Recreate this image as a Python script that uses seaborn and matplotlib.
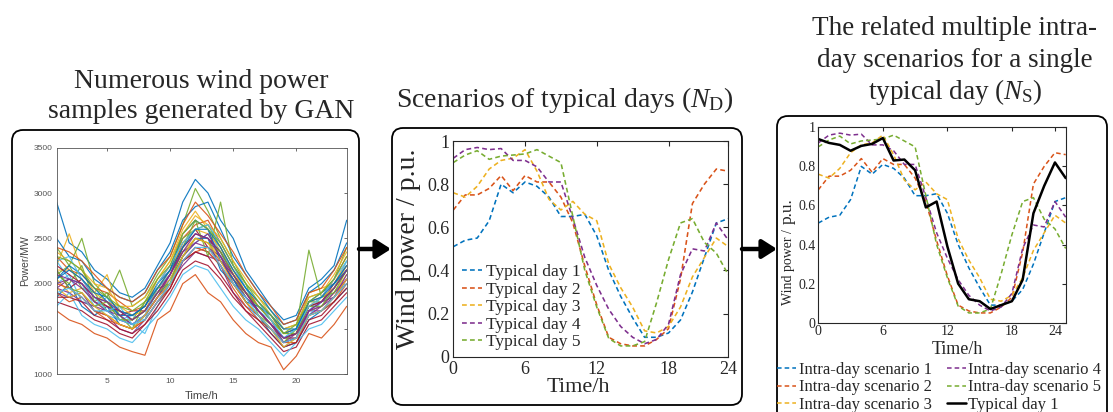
import matplotlib
matplotlib.use("Agg")
import matplotlib.pyplot as plt
import numpy as np
import pandas as pd
import seaborn as sns
from matplotlib.patches import FancyBboxPatch, FancyArrowPatch, ArrowStyle
from matplotlib.transforms import Affine2D

# ---------------------------------------------------------------- data
gan_hours = list(range(1, 25))
gan_samples = [
    [2900, 2450, 2350, 2150, 2050, 1900, 1850, 1950, 2200, 2450, 2900, 3150, 3000, 2700, 2500, 2150, 1950, 1750, 1600, 1650, 1950, 2050, 2200, 2700],
    [1700, 1600, 1550, 1450, 1400, 1300, 1250, 1210, 1600, 1700, 2000, 2100, 1900, 1800, 1600, 1450, 1350, 1300, 1050, 1200, 1450, 1400, 1550, 1750],
    [2200, 2550, 2150, 1900, 2100, 1700, 1650, 1750, 2050, 2250, 2600, 2800, 2600, 2350, 2150, 1900, 1800, 1600, 1450, 1500, 1900, 1950, 2000, 2250],
    [1900, 1850, 1900, 1700, 1650, 1500, 1450, 1600, 1800, 1950, 2250, 2400, 2350, 2200, 1900, 1750, 1650, 1500, 1350, 1400, 1700, 1700, 1850, 2050],
    [2400, 2200, 2500, 2000, 1850, 2150, 1750, 1850, 2100, 2300, 2650, 3050, 2800, 2500, 2250, 2000, 1850, 1700, 1500, 1550, 1850, 1900, 2050, 2400],
    [2000, 2100, 1800, 1750, 1650, 1600, 1550, 1450, 1750, 2000, 2300, 2450, 2550, 2350, 2000, 1800, 1600, 1500, 1300, 1400, 1650, 1800, 1900, 2000],
    [2150, 1950, 2050, 1850, 1800, 1650, 1700, 1700, 1950, 2100, 2450, 2600, 2400, 2300, 2050, 1900, 1700, 1550, 1400, 1450, 1750, 1800, 2000, 2200],
    [1850, 2000, 1750, 1650, 1750, 1550, 1500, 1650, 1850, 2050, 2300, 2500, 2500, 2150, 2000, 1800, 1650, 1450, 1300, 1350, 1600, 1700, 1800, 1950],
    [2300, 2150, 2100, 1950, 1900, 1800, 1700, 1750, 2000, 2200, 2500, 2650, 2700, 2450, 2200, 1950, 1750, 1650, 1450, 1500, 1800, 1850, 2050, 2300],
    [2050, 1900, 1950, 1800, 1700, 1600, 1600, 1700, 1900, 2050, 2350, 2500, 2450, 2300, 2050, 1850, 1700, 1550, 1400, 1400, 1700, 1750, 1900, 2100],
    [1950, 2050, 2000, 1800, 1750, 1650, 1550, 1650, 1850, 2000, 2200, 2350, 2300, 2250, 2100, 1900, 1750, 1600, 1350, 1450, 1650, 1750, 1850, 2050],
    [2100, 2200, 1950, 1900, 1700, 1700, 1600, 1800, 1950, 2150, 2500, 2600, 2650, 2400, 2100, 1850, 1700, 1550, 1400, 1450, 1800, 1800, 1950, 2150],
    [2250, 2050, 2000, 1750, 1850, 1600, 1650, 1600, 1950, 2100, 2400, 2550, 2500, 2350, 2150, 1950, 1700, 1600, 1400, 1500, 1700, 1850, 1950, 2250],
    [1800, 1750, 1700, 1600, 1550, 1450, 1400, 1550, 1700, 1900, 2150, 2250, 2200, 2050, 1850, 1700, 1550, 1400, 1250, 1300, 1550, 1600, 1750, 1900],
    [2500, 2300, 2250, 2050, 1950, 1850, 1800, 1900, 2150, 2350, 2700, 2850, 2900, 2600, 2300, 2100, 1900, 1700, 1550, 1600, 1900, 2000, 2150, 2450],
    [2000, 1950, 1850, 1700, 1650, 1550, 1500, 1600, 1800, 1950, 2250, 2400, 2350, 2200, 2000, 1800, 1650, 1500, 1350, 1400, 1650, 1700, 1850, 2000],
    [2150, 2150, 2050, 1900, 1800, 1750, 1650, 1700, 1950, 2150, 2450, 2600, 2550, 2400, 2150, 1900, 1750, 1600, 1450, 1450, 1750, 1850, 1950, 2200],
    [1950, 1900, 1800, 1750, 1700, 1600, 1550, 1650, 1850, 2000, 2300, 2450, 2400, 2250, 2050, 1850, 1700, 1550, 1400, 1400, 1700, 1750, 1900, 2050],
    [2100, 2000, 2200, 1800, 1900, 1650, 1500, 1800, 1950, 2000, 2400, 2700, 2300, 2900, 2200, 2000, 1650, 1550, 1350, 1500, 2370, 1850, 1900, 2150],
    [1750, 1900, 1650, 1550, 1500, 1400, 1350, 1500, 1650, 1850, 2100, 2200, 2150, 1950, 1750, 1600, 1500, 1350, 1200, 1350, 1500, 1550, 1700, 1850],
    [2200, 2100, 2000, 1850, 1750, 1700, 1600, 1700, 1900, 2100, 2400, 2550, 2500, 2350, 2100, 1900, 1700, 1550, 1400, 1450, 1750, 1800, 1950, 2150],
    [2050, 2200, 2100, 1950, 1800, 1650, 1650, 1750, 2000, 2150, 2550, 2700, 2600, 2250, 2050, 1800, 1750, 1650, 1450, 1500, 1800, 1900, 2000, 2200],
    [1900, 1800, 1850, 1700, 1600, 1550, 1500, 1600, 1800, 2000, 2250, 2350, 2400, 2200, 1950, 1750, 1600, 1500, 1350, 1350, 1650, 1700, 1800, 2000],
    [2350, 2250, 2150, 2000, 1950, 1750, 1750, 1850, 2050, 2250, 2550, 2750, 2650, 2500, 2250, 2050, 1850, 1650, 1500, 1550, 1850, 1900, 2100, 2350],
    [2000, 2050, 1950, 1800, 1700, 1650, 1550, 1650, 1850, 2100, 2350, 2450, 2550, 2300, 2000, 1850, 1700, 1550, 1350, 1400, 1700, 1800, 1850, 2100],
    [2150, 1950, 1900, 1750, 1800, 1600, 1600, 1700, 1900, 2000, 2300, 2500, 2450, 2350, 2100, 1900, 1750, 1600, 1450, 1450, 1750, 1750, 1950, 2150],
    [2250, 2300, 2050, 1850, 1700, 1750, 1550, 1650, 2000, 2200, 2450, 2600, 2650, 2450, 2200, 1950, 1800, 1600, 1400, 1500, 1750, 1850, 2050, 2250],
    [1850, 1850, 1800, 1650, 1600, 1500, 1450, 1550, 1750, 1950, 2250, 2350, 2300, 2100, 1900, 1700, 1600, 1450, 1300, 1350, 1600, 1650, 1800, 1950],
    [2050, 2150, 2050, 1900, 1850, 1700, 1650, 1750, 1950, 2150, 2400, 2600, 2600, 2400, 2150, 1950, 1800, 1650, 1500, 1500, 1800, 1850, 2000, 2150],
    [2400, 2350, 2250, 2100, 1950, 1850, 1800, 1900, 2150, 2300, 2650, 2900, 2750, 2550, 2350, 2100, 1900, 1750, 1550, 1600, 1900, 1950, 2150, 2400],
    [1950, 1850, 1900, 1750, 1650, 1550, 1500, 1650, 1850, 2000, 2300, 2500, 2450, 2250, 2000, 1800, 1650, 1500, 1300, 1400, 1650, 1700, 1850, 2050],
    [2100, 2050, 2000, 1850, 1800, 1700, 1600, 1700, 1900, 2100, 2350, 2550, 2500, 2300, 2100, 1900, 1700, 1550, 1400, 1450, 1700, 1800, 1950, 2150],
    [2300, 2250, 2150, 1950, 1850, 1750, 1700, 1800, 2050, 2200, 2550, 2700, 2600, 2450, 2200, 2000, 1800, 1650, 1450, 1550, 1800, 1900, 2050, 2300],
    [1900, 1950, 1850, 1700, 1700, 1600, 1550, 1600, 1800, 2000, 2250, 2400, 2400, 2200, 2000, 1850, 1650, 1500, 1350, 1400, 1650, 1700, 1850, 2000],
]

day_hours = list(range(24))
day1 = [0.51, 0.54, 0.55, 0.63, 0.80, 0.76, 0.81, 0.79, 0.74, 0.65, 0.65, 0.66, 0.56, 0.40, 0.28, 0.18, 0.09, 0.09, 0.11, 0.17, 0.30, 0.46, 0.62, 0.64]
day2 = [0.68, 0.75, 0.75, 0.78, 0.84, 0.77, 0.84, 0.81, 0.81, 0.74, 0.62, 0.42, 0.24, 0.09, 0.06, 0.05, 0.05, 0.08, 0.13, 0.36, 0.71, 0.80, 0.87, 0.86]
day3 = [0.76, 0.74, 0.79, 0.87, 0.91, 0.92, 0.96, 0.86, 0.73, 0.68, 0.72, 0.66, 0.63, 0.43, 0.32, 0.23, 0.12, 0.11, 0.14, 0.23, 0.37, 0.46, 0.55, 0.51]
day4 = [0.92, 0.96, 0.97, 0.96, 0.965, 0.91, 0.91, 0.88, 0.81, 0.81, 0.64, 0.46, 0.33, 0.22, 0.14, 0.09, 0.06, 0.08, 0.15, 0.38, 0.50, 0.49, 0.62, 0.54]
day5 = [0.90, 0.935, 0.955, 0.915, 0.93, 0.935, 0.94, 0.96, 0.93, 0.90, 0.65, 0.40, 0.23, 0.085, 0.05, 0.05, 0.07, 0.25, 0.45, 0.62, 0.64, 0.53, 0.48, 0.38]
typical_day1 = [0.94, 0.92, 0.91, 0.88, 0.905, 0.915, 0.945, 0.83, 0.835, 0.78, 0.59, 0.62, 0.39, 0.20, 0.12, 0.11, 0.07, 0.09, 0.11, 0.22, 0.56, 0.70, 0.82, 0.74]

day_series = [day1, day2, day3, day4, day5]
typical_labels = ["Typical day 1", "Typical day 2", "Typical day 3", "Typical day 4", "Typical day 5"]
intra_labels = ["Intra-day scenario 1", "Intra-day scenario 2", "Intra-day scenario 3",
                "Intra-day scenario 4", "Intra-day scenario 5"]
pu_ticks = [0, 0.2, 0.4, 0.6, 0.8, 1.0]
pu_ticklabels = ["0", "0.2", "0.4", "0.6", "0.8", "1"]
hour_ticklabels = ["0", "6", "12", "18", "24"]

matlab_colors = ["#0072BD", "#D95319", "#EDB120", "#7E2F8E", "#77AC30", "#4DBEEE", "#A2142F"]

# ---------------------------------------------------------------- style
sns.set_theme(style="white")
plt.rcParams["font.family"] = ["Liberation Serif", "DejaVu Serif"]
plt.rcParams["mathtext.fontset"] = "custom"
plt.rcParams["mathtext.rm"] = "Liberation Serif"
plt.rcParams["mathtext.it"] = "Liberation Serif:italic"

W, H = 1113, 412
fig = plt.figure(figsize=(W / 100, H / 100), dpi=100)
fig.patch.set_facecolor("white")

# pixel transform: x from left, y from top
px = Affine2D().scale(1 / W, -1 / H).translate(0, 1) + fig.transFigure


def add_axes_px(left, top, right, bottom):
    return fig.add_axes([left / W, 1 - bottom / H, (right - left) / W, (bottom - top) / H])


def matlab_axes(ax, color, lw, size, tick_len):
    for sp in ax.spines.values():
        sp.set_visible(True)
        sp.set_color(color)
        sp.set_linewidth(lw)
    ax.tick_params(direction="in", top=True, right=True, length=tick_len, width=lw,
                   color=color, labelcolor=color, labelsize=size, pad=3)
    ax.set_facecolor("white")
    ax.grid(False)


# ---------------------------------------------------------------- frames
for (l, t, r, b) in [(12, 130, 359, 404), (392, 128, 742, 405), (777, 116, 1107, 440)]:
    box = FancyBboxPatch((l, t), r - l, b - t, boxstyle="round,pad=0,rounding_size=11",
                         transform=px, facecolor="none", edgecolor="black", linewidth=1.3)
    fig.add_artist(box)

for (x0, x1) in [(359, 391), (742, 777)]:
    arr = FancyArrowPatch((x0, 249), (x1, 249), transform=px,
                          arrowstyle=ArrowStyle("-|>", head_length=0.55, head_width=0.35),
                          mutation_scale=16, linewidth=3.2, color="black",
                          shrinkA=0, shrinkB=0)
    fig.add_artist(arr)

# ---------------------------------------------------------------- headings
fig.text(201, 88, "Numerous wind power", transform=px, ha="center", va="baseline", fontsize=20)
fig.text(201, 118, "samples generated by GAN", transform=px, ha="center", va="baseline", fontsize=20)
fig.text(565, 107, r"Scenarios of typical days ($\mathit{N}_{\mathrm{D}}$)", transform=px,
         ha="center", va="baseline", fontsize=20)
fig.text(955, 35, "The related multiple intra-", transform=px, ha="center", va="baseline", fontsize=19.5)
fig.text(955, 67, "day scenarios for a single", transform=px, ha="center", va="baseline", fontsize=19.5)
fig.text(955, 99, r"typical day ($\mathit{N}_{\mathrm{S}}$)", transform=px, ha="center", va="baseline", fontsize=19.5)

# ---------------------------------------------------------------- GAN samples
ax1 = add_axes_px(56.6, 147.7, 346.7, 374.3)
gan_df = pd.DataFrame(
    [{"sample": f"S{i:02d}", "hour": h, "power": v}
     for i, row in enumerate(gan_samples) for h, v in zip(gan_hours, row)]
)
gan_palette = [matlab_colors[i % len(matlab_colors)] for i in range(len(gan_samples))]
sns.lineplot(data=gan_df, x="hour", y="power", hue="sample", palette=gan_palette,
             estimator=None, legend=False, linewidth=0.85, alpha=0.9, ax=ax1)
ax1.set_xlim(1, 24)
ax1.set_ylim(1000, 3500)
ax1.set_xticks([5, 10, 15, 20])
ax1.set_yticks([1000, 1500, 2000, 2500, 3000, 3500])
matlab_axes(ax1, "#555555", 0.6, 6, 2.5)
for lab in ax1.get_xticklabels() + ax1.get_yticklabels():
    lab.set_fontfamily("Liberation Sans")
ax1.set_xlabel("Time/h", fontsize=8, fontfamily="Liberation Sans", color="#444444")
ax1.set_ylabel("Power/MW", fontsize=7.5, fontfamily="Liberation Sans", color="#444444")
ax1.xaxis.set_label_coords(0.5, -0.072)
ax1.yaxis.set_label_coords(-0.092, 0.5)

# ---------------------------------------------------------------- typical days
dash = (0, (3, 2))
ax2 = add_axes_px(453.3, 141, 728.3, 356.7)
for vals, lab, col in zip(day_series, typical_labels, matlab_colors):
    sns.lineplot(x=day_hours, y=vals, color=col, linestyle=dash, linewidth=1.15,
                 label=lab, ax=ax2)
ax2.set_xlim(0, 23)
ax2.set_ylim(0, 1)
ax2.set_xticks([0, 6, 12, 18, 23])
ax2.set_xticklabels(hour_ticklabels)
ax2.set_yticks(pu_ticks)
ax2.set_yticklabels(pu_ticklabels)
matlab_axes(ax2, "#262626", 0.8, 13, 3.5)
ax2.set_xlabel("Time/h", fontsize=16, color="#262626")
ax2.set_ylabel("Wind power / p.u.", fontsize=20, color="#262626")
ax2.xaxis.set_label_coords(0.453, -0.1)
ax2.yaxis.set_label_coords(-0.117, 0.5)
ax2.legend(loc="lower left", bbox_to_anchor=(0.032, 0.03), frameon=False, fontsize=12.5,
           handlelength=1.15, handletextpad=0.25, labelspacing=0.08,
           borderpad=0, borderaxespad=0)

# ---------------------------------------------------------------- intra-day scenarios
ax3 = add_axes_px(818.3, 127.3, 1065.7, 322.7)
for vals, lab, col in zip(day_series, intra_labels, matlab_colors):
    sns.lineplot(x=day_hours, y=vals, color=col, linestyle=dash, linewidth=1.1,
                 label=lab, ax=ax3)
sns.lineplot(x=day_hours, y=typical_day1, color="black", linewidth=1.8,
             label="Typical day 1", ax=ax3)
ax3.set_xlim(0, 23)
ax3.set_ylim(0, 1)
ax3.set_xticks([0, 6, 12, 18, 22])
ax3.set_xticklabels(hour_ticklabels)
ax3.set_yticks(pu_ticks)
ax3.set_yticklabels(pu_ticklabels)
matlab_axes(ax3, "#262626", 0.8, 10, 3)
ax3.tick_params(pad=2)
ax3.set_xlabel("Time/h", fontsize=13, color="#262626")
ax3.xaxis.set_label_coords(0.563, -0.092)
fig.text(792, 305, "Wind power /", transform=px, rotation=90, rotation_mode="anchor",
         ha="left", va="baseline", fontsize=10, color="#262626")
fig.text(792, 224, "p.u.", transform=px, rotation=90, rotation_mode="anchor",
         ha="left", va="baseline", fontsize=12.5, color="#262626")
handles, labels = ax3.get_legend_handles_labels()
ax3.get_legend().remove()
fig.legend(handles, labels, ncol=2, loc="upper left",
           bbox_to_anchor=(777 / W, 1 - 362 / H), bbox_transform=fig.transFigure,
           frameon=False, fontsize=12, handlelength=1.15, handletextpad=0.15,
           columnspacing=0.9, labelspacing=0.08, borderpad=0, borderaxespad=0)

fig.savefig("out.png", dpi=100, facecolor="white")
